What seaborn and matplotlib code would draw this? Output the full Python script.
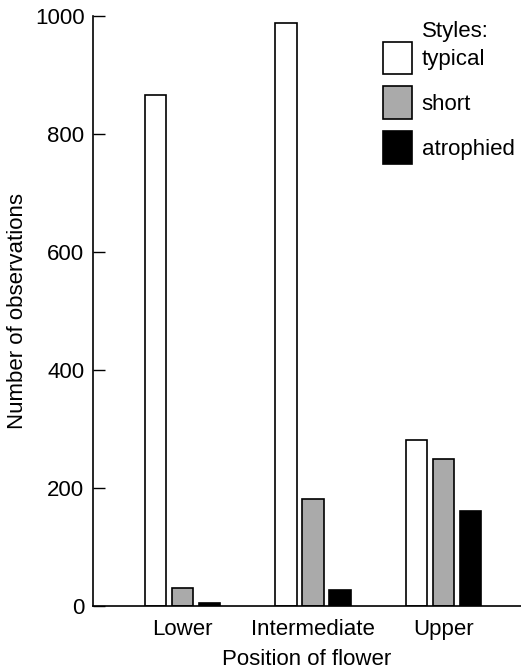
import seaborn as sns
import pandas as pd
import matplotlib.pyplot as plt
import matplotlib.patches as mpatches

positions = ['Lower', 'Intermediate', 'Upper']
styles = ['typical', 'short', 'atrophied']
typical = [866, 988, 281]
short = [30, 181, 249]
atrophied = [6, 28, 161]
colors = ['white', '#aaaaaa', 'black']

df = pd.DataFrame({
    'position': positions * 3,
    'style': ['typical'] * 3 + ['short'] * 3 + ['atrophied'] * 3,
    'count': typical + short + atrophied,
})

sns.set_style('ticks')
plt.rcParams['font.family'] = ['Liberation Sans', 'DejaVu Sans']
plt.rcParams.update({'text.color': 'black', 'axes.labelcolor': 'black',
                     'xtick.color': 'black', 'ytick.color': 'black'})

fig = plt.figure(figsize=(5.21, 6.72), dpi=100)
ax = fig.add_axes([0.178, 0.098, 0.822, 0.8785])

sns.barplot(data=df, x='position', y='count', hue='style', hue_order=styles,
            palette=colors, width=0.62, gap=0.2, edgecolor='black',
            linewidth=1.2, legend=False, ax=ax)

fs = 16
ax.set_ylim(0, 1000)
ax.set_xlim(-0.689, 2.594)
ax.set_yticks([0, 200, 400, 600, 800, 1000])
ax.tick_params(axis='y', direction='in', length=8.5, width=1, pad=6, labelsize=fs)
ax.tick_params(axis='x', length=0, pad=9, labelsize=fs)
ax.set_xlabel('Position of flower', fontsize=fs, labelpad=7)
ax.set_ylabel('Number of observations', fontsize=fs, labelpad=5)
for s in ['top', 'right']:
    ax.spines[s].set_visible(False)
for s in ['left', 'bottom']:
    ax.spines[s].set_linewidth(1.2)
    ax.spines[s].set_color('black')

handles = [mpatches.Patch(facecolor=c, edgecolor='black', linewidth=1.2) for c in colors]
ax.legend(handles, styles, loc='upper left', bbox_to_anchor=(0.7345, 0.938),
          bbox_transform=fig.transFigure, frameon=False, borderpad=0,
          fontsize=fs, handlelength=1.3, handleheight=1.88,
          labelspacing=0.55, handletextpad=0.45, borderaxespad=0)
fig.text(0.8094, 0.9528, 'Styles:', fontsize=fs, va='center', ha='left')

fig.savefig('out.png', dpi=100)
